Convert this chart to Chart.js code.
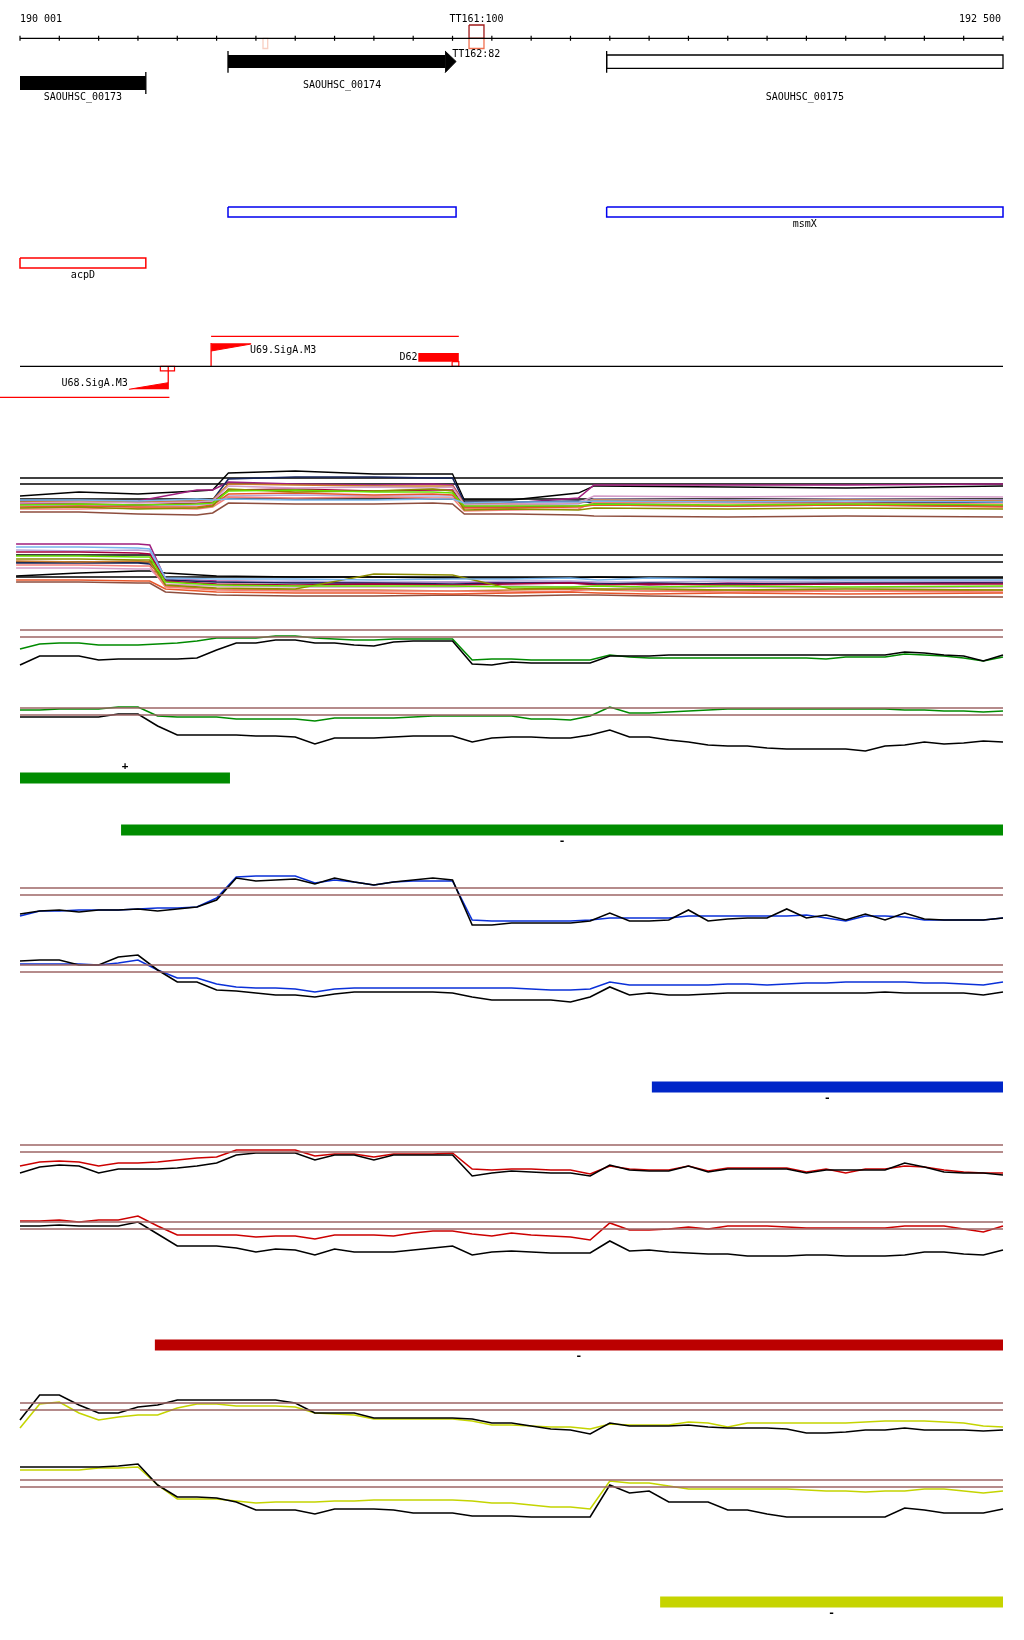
<!DOCTYPE html>
<html>
<head>
<meta charset="utf-8">
<title>SAOUHSC_00173 - SAOUHSC_00175</title>
<script src="https://cdn.jsdelivr.net/npm/chart.js@4.4.1/dist/chart.umd.min.js"></script>
<style>
  html, body { margin: 0; padding: 0; background: #fff; }
  body { position: relative; width: 1024px; height: 1640px; overflow: hidden; }
  canvas { position: absolute; left: 0; }
</style>
</head>
<body>
<script>
// genome window
const X_MIN = 190000;
const X_MAX = 192500;

const rulerTicks = [190000, 190100, 190200, 190300, 190400, 190500, 190600, 190700, 190800, 190900,
  191000, 191100, 191200, 191300, 191400, 191500, 191600, 191700, 191800, 191900,
  192000, 192100, 192200, 192300, 192400, 192500];
const rulerLabels = ["190 001", "192 500"];

// terminator marks on the ruler
const markNames = ["TT161:100", "TT162:82"];
const markStarts = [191142, 190618];
const markEnds = [191180, 190630];

// genes
const geneNames = ["SAOUHSC_00173", "SAOUHSC_00174", "SAOUHSC_00175"];
const geneStarts = [190000, 190529, 191492];
const geneEnds = [190320, 191109, 192500];

// annotation boxes
const blueStarts = [190529, 191492];
const blueEnds = [191109, 192500];
const blueNames = ["", "msmX"];
const redStarts = [190000];
const redEnds = [190320];
const redNames = ["acpD"];

// promoters / terminators
const promoterNames = ["U69.SigA.M3", "U68.SigA.M3", "D62"];
const promoterStarts = [190486, 190277, 191013];
const promoterEnds = [190588, 190377, 191116];

// tiling-array positions (every 50 bp)
const positions = [190000, 190050, 190100, 190150, 190200, 190250, 190300, 190350, 190400, 190450,
  190500, 190550, 190600, 190650, 190700, 190750, 190800, 190850, 190900, 190950,
  191000, 191050, 191100, 191150, 191200, 191250, 191300, 191350, 191400, 191450,
  191500, 191550, 191600, 191650, 191700, 191750, 191800, 191850, 191900, 191950,
  192000, 192050, 192100, 192150, 192200, 192250, 192300, 192350, 192400, 192450, 192500];

const thresholds = [7.0, 6.3];

const green1Black = [3.5,4.4,4.4,4.4,4.0,4.1,4.1,4.1,4.1,4.2, 5.0,5.7,5.7,6.0,6.0,5.7,5.7,5.5,5.4,5.8,
  5.9,5.9,5.9,3.6,3.5,3.8,3.7,3.7,3.7,3.7, 4.4,4.4,4.4,4.5,4.5,4.5,4.5,4.5,4.5,4.5, 4.5,4.5,4.5,4.5,4.5,4.8,4.7,4.5,4.4,3.9,4.5];
const green1Signal = [5.1,5.6,5.7,5.7,5.5,5.5,5.5,5.6,5.7,5.9, 6.2,6.2,6.2,6.4,6.4,6.2,6.1,6.0,6.0,6.1,
  6.1,6.1,6.1,4.0,4.1,4.1,4.0,4.0,4.0,4.0, 4.5,4.3,4.2,4.2,4.2,4.2,4.2,4.2,4.2,4.2, 4.2,4.1,4.3,4.3,4.3,4.6,4.5,4.4,4.2,3.9,4.3];
const green2Black = [6.1,6.1,6.1,6.1,6.1,6.4,6.4,5.2,4.3,4.3, 4.3,4.3,4.2,4.2,4.1,3.4,4.0,4.0,4.0,4.1,
  4.2,4.2,4.2,3.6,4.0,4.1,4.1,4.0,4.0,4.3, 4.8,4.1,4.1,3.8,3.6,3.3,3.2,3.2,3.0,2.9, 2.9,2.9,2.9,2.7,3.2,3.3,3.6,3.4,3.5,3.7,3.6];
const green2Signal = [6.8,6.8,6.9,6.9,6.9,7.1,7.1,6.2,6.1,6.1, 6.1,5.9,5.9,5.9,5.9,5.7,6.0,6.0,6.0,6.0,
  6.1,6.2,6.2,6.2,6.2,6.2,5.9,5.9,5.8,6.2, 7.1,6.5,6.5,6.6,6.7,6.8,6.9,6.9,6.9,6.9, 6.9,6.9,6.9,6.9,6.9,6.8,6.8,6.7,6.7,6.6,6.7];

const blue1Black = [4.4,4.7,4.8,4.6,4.8,4.8,4.9,4.7,4.9,5.1, 5.8,8.0,7.7,7.8,7.9,7.4,8.0,7.6,7.3,7.6,
  7.8,8.0,7.8,3.3,3.3,3.5,3.5,3.5,3.5,3.7, 4.5,3.7,3.7,3.8,4.8,3.7,3.9,4.0,4.0,4.9, 4.0,4.3,3.8,4.4,3.8,4.5,3.9,3.8,3.8,3.8,4.0];
const blue1Signal = [4.2,4.7,4.7,4.8,4.8,4.8,4.9,5.0,5.0,5.1, 6.0,8.1,8.2,8.2,8.2,7.5,7.8,7.6,7.3,7.6,
  7.7,7.7,7.7,3.8,3.7,3.7,3.7,3.7,3.7,3.8, 4.0,4.0,4.0,4.0,4.2,4.2,4.2,4.2,4.2,4.2, 4.3,4.0,3.7,4.2,4.2,4.1,3.8,3.8,3.8,3.8,4.0];
const blue2Black = [7.4,7.5,7.5,7.0,7.0,7.8,8.0,6.5,5.3,5.3, 4.5,4.4,4.2,4.0,4.0,3.8,4.1,4.3,4.3,4.3,
  4.3,4.3,4.2,3.8,3.5,3.5,3.5,3.5,3.3,3.8, 4.8,4.0,4.2,4.0,4.0,4.1,4.2,4.2,4.2,4.2, 4.2,4.2,4.2,4.2,4.3,4.2,4.2,4.2,4.2,4.0,4.3];
const blue2Signal = [7.1,7.1,7.1,7.1,7.0,7.2,7.5,6.5,5.7,5.7, 5.1,4.8,4.7,4.7,4.6,4.3,4.6,4.7,4.7,4.7,
  4.7,4.7,4.7,4.7,4.7,4.7,4.6,4.5,4.5,4.6, 5.3,5.0,5.0,5.0,5.0,5.0,5.1,5.1,5.0,5.1, 5.2,5.2,5.3,5.3,5.3,5.3,5.2,5.2,5.1,5.0,5.3];

const red1Black = [4.2,4.8,5.0,4.9,4.2,4.6,4.6,4.6,4.7,4.9, 5.2,6.0,6.2,6.2,6.2,5.5,6.0,6.0,5.5,6.0,
  6.0,6.0,6.0,3.9,4.2,4.4,4.3,4.2,4.2,3.9, 5.0,4.5,4.4,4.4,4.9,4.3,4.6,4.6,4.6,4.6, 4.2,4.5,4.5,4.5,4.5,5.2,4.8,4.3,4.2,4.2,4.0];
const red1Signal = [4.9,5.3,5.4,5.3,4.9,5.2,5.2,5.3,5.5,5.7, 5.8,6.5,6.5,6.5,6.5,5.9,6.1,6.1,5.8,6.1,
  6.1,6.1,6.2,4.6,4.5,4.6,4.6,4.5,4.5,4.1, 4.9,4.6,4.5,4.5,4.9,4.4,4.7,4.7,4.7,4.7, 4.3,4.6,4.2,4.6,4.6,4.9,4.8,4.5,4.3,4.2,4.2];
const red2Black = [6.6,6.6,6.7,6.6,6.6,6.6,7.0,5.8,4.6,4.6, 4.6,4.4,4.0,4.3,4.2,3.7,4.3,4.0,4.0,4.0,
  4.2,4.4,4.6,3.7,4.0,4.1,4.0,3.9,3.9,3.9, 5.1,4.1,4.2,4.0,3.9,3.8,3.8,3.6,3.6,3.6, 3.7,3.7,3.6,3.6,3.6,3.7,4.0,4.0,3.8,3.7,4.2];
const red2Signal = [7.1,7.1,7.2,7.0,7.2,7.2,7.6,6.6,5.7,5.7, 5.7,5.7,5.5,5.6,5.6,5.3,5.7,5.7,5.7,5.6,
  5.9,6.1,6.1,5.8,5.6,5.9,5.7,5.6,5.5,5.2, 6.9,6.2,6.2,6.3,6.5,6.3,6.6,6.6,6.6,6.5, 6.4,6.4,6.4,6.4,6.4,6.6,6.6,6.6,6.3,6.0,6.6];

const yellow1Black = [5.3,7.8,7.8,6.8,6.0,6.0,6.6,6.8,7.3,7.3, 7.3,7.3,7.3,7.3,7.0,6.0,6.0,6.0,5.5,5.5,
  5.5,5.5,5.5,5.4,5.0,5.0,4.7,4.4,4.3,3.9, 5.0,4.7,4.7,4.7,4.8,4.6,4.5,4.5,4.5,4.4, 4.0,4.0,4.1,4.3,4.3,4.5,4.3,4.3,4.3,4.2,4.3];
const yellow1Signal = [4.5,6.9,7.1,6.0,5.3,5.6,5.8,5.8,6.5,6.9, 6.9,6.7,6.7,6.7,6.6,6.0,5.9,5.8,5.4,5.4,
  5.4,5.4,5.4,5.2,4.8,4.8,4.7,4.6,4.6,4.4, 4.9,4.8,4.8,4.8,5.1,5.0,4.6,5.0,5.0,5.0, 5.0,5.0,5.0,5.1,5.2,5.2,5.2,5.1,5.0,4.7,4.6];
const yellow2Black = [8.3,8.3,8.3,8.3,8.3,8.4,8.6,6.5,5.3,5.3, 5.2,4.8,4.0,4.0,4.0,3.6,4.1,4.1,4.1,4.0,
  3.7,3.7,3.7,3.4,3.4,3.4,3.3,3.3,3.3,3.3, 6.5,5.7,5.9,4.8,4.8,4.8,4.0,4.0,3.6,3.3, 3.3,3.3,3.3,3.3,3.3,4.2,4.0,3.7,3.7,3.7,4.1];
const yellow2Signal = [8.0,8.0,8.0,8.0,8.2,8.2,8.3,6.5,5.1,5.1, 5.1,4.9,4.7,4.8,4.8,4.8,4.9,4.9,5.0,5.0,
  5.0,5.0,5.0,4.9,4.7,4.7,4.5,4.3,4.3,4.1, 6.9,6.7,6.7,6.4,6.1,6.1,6.1,6.1,6.1,6.1, 6.0,5.9,5.9,5.8,5.9,5.9,6.1,6.1,5.9,5.7,5.9];

// multi-condition overview panels
const multiColours = ["#78b4ec", "#66e000", "#8c8c00", "#e8562a", "#f4807a", "#8e4e3e",
  "#d49cc8", "#a8003c", "#cc7a2c", "#16245a", "#b4a8dc", "#a01f7e", "#000000"];
const multi1Positions = [190000, 190150, 190300, 190450, 190490, 190530, 190700, 190900, 191050,
  191100, 191130, 191250, 191420, 191460, 191800, 192100, 192500];
const multi1Lines = [
  [4.8,4.8,4.7,4.9,4.8,4.9,4.8,4.8,4.9,4.9,4.5,4.6,4.6,4.7,4.6,4.7,4.6],
  [4.3,4.4,4.3,4.4,4.5,5.7,5.8,5.6,5.6,5.5,4.2,4.2,4.2,4.4,4.3,4.4,4.3],
  [4.0,4.1,3.9,4.0,4.2,5.9,5.6,5.7,5.9,5.7,3.8,3.9,3.8,4.0,3.9,4.0,3.9],
  [4.1,4.2,4.1,4.1,4.3,5.4,5.5,5.3,5.4,5.3,4.0,4.0,4.1,4.3,4.2,4.3,4.1],
  [3.9,3.9,4.0,3.9,4.1,5.1,5.0,5.1,5.0,5.0,3.7,3.8,3.9,4.6,4.5,4.5,4.4],
  [3.6,3.6,3.4,3.3,3.5,4.5,4.4,4.4,4.5,4.4,3.4,3.4,3.3,3.2,3.1,3.2,3.1],
  [4.5,4.6,4.5,4.6,4.7,6.2,6.0,6.1,6.0,6.1,4.3,4.4,4.5,5.2,5.1,5.2,5.1],
  [4.4,4.4,4.3,4.5,4.6,5.8,5.9,5.7,5.8,5.8,4.1,4.1,4.2,4.3,4.2,4.3,4.2],
  [4.6,4.7,4.6,4.7,4.8,6.4,6.3,6.2,6.2,6.2,4.4,4.4,4.5,4.8,4.7,4.8,4.7],
  [4.7,4.7,4.6,4.7,4.8,6.9,7.1,7.1,7.0,7.0,4.6,4.6,4.7,4.5,4.6,4.5,4.6],
  [4.2,4.3,4.2,4.3,4.4,5.2,5.3,5.2,5.2,5.2,4.3,4.3,4.4,4.9,4.8,4.9,4.8],
  [4.5,4.6,4.7,5.8,5.8,6.6,6.4,6.3,6.4,6.3,4.5,4.5,5.0,6.3,6.3,6.3,6.4],
  [5.2,5.6,5.4,5.7,5.8,7.5,7.7,7.4,7.4,7.4,4.8,4.8,5.5,6.2,6.1,6.0,6.2]
];
const multi1Thresholds = [7.0, 6.4, 4.9];
const multi2Positions = [189990, 190150, 190300, 190330, 190370, 190500, 190700, 190900,
  191100, 191250, 191400, 191470, 191600, 191800, 192100, 192500];
const multi2Lines = [
  [7.8,7.8,7.7,7.6,4.7,4.6,4.6,4.5,4.6,4.6,4.7,4.5,4.7,4.6,4.5,4.5],
  [6.9,6.9,6.8,6.8,4.3,4.0,3.9,3.9,3.9,3.8,3.8,3.9,3.8,3.9,3.8,3.9],
  [6.6,6.6,6.5,6.5,4.0,3.7,3.6,5.1,5.0,3.6,3.7,3.6,3.6,3.5,3.6,3.5],
  [4.5,4.5,4.4,4.4,3.6,3.3,3.2,3.2,3.1,3.2,3.3,3.2,3.1,3.2,3.1,3.2],
  [6.0,6.0,5.9,5.9,3.8,3.5,3.4,3.4,3.4,3.3,3.4,3.6,3.4,3.3,3.4,3.3],
  [4.3,4.3,4.2,4.2,3.3,3.0,2.9,2.9,3.0,2.9,3.0,3.0,2.9,2.8,2.8,2.8],
  [5.7,5.7,5.6,5.6,4.1,3.9,3.8,3.8,3.8,3.9,3.8,3.9,3.7,3.8,3.7,3.8],
  [7.3,7.3,7.2,7.1,4.4,4.1,4.0,4.1,4.0,4.1,4.2,4.0,4.1,4.0,4.1,4.1],
  [6.4,6.3,6.4,6.3,3.9,3.6,3.5,3.5,3.4,3.5,3.6,3.5,3.4,3.5,3.4,3.5],
  [6.2,6.2,6.2,6.1,4.5,4.3,4.2,4.2,4.1,4.2,4.2,4.1,4.2,4.1,4.2,4.2],
  [7.5,7.4,7.5,7.4,4.6,4.3,4.4,4.3,4.3,4.4,4.4,4.3,4.3,4.4,4.3,4.4],
  [8.1,8.1,8.1,8.0,4.6,4.4,4.3,4.2,4.3,4.2,4.3,4.2,4.0,4.2,4.1,4.3],
  [4.9,5.2,5.4,5.4,5.2,4.9,4.8,4.8,4.7,4.7,4.7,4.8,4.7,4.7,4.7,4.7]
];
const multi2Thresholds = [7.0, 6.3, 4.8];

// transcribed strands under each panel group
const strandStarts = [190000, 190257, 191607, 190343, 191628];
const strandEnds = [190534, 192500, 192500, 192500, 192500];
const strandSigns = ["+", "-", "-", "-", "-"];

// ---------- drawing helpers ----------
const FONT = '10px "DejaVu Sans Mono", monospace';

function addCanvas(top, height) {
  const c = document.createElement("canvas");
  c.width = 1024;
  c.height = height;
  c.style.top = top + "px";
  c.style.width = "1024px";
  c.style.height = height + "px";
  document.body.appendChild(c);
  return c;
}

function series(xs, ys, color, width) {
  return {
    data: xs.map((x, i) => ({ x: x, y: ys[i] })),
    borderColor: color,
    backgroundColor: color,
    borderWidth: width || 1,
    pointRadius: 0,
    fill: false,
    clip: false,
  };
}
function hline(x0, x1, y, color, width) {
  return series([x0, x1], [y, y], color, width);
}
function vline(x, y0, y1, color, width) {
  return series([x, x], [y0, y1], color, width);
}
function bar(x0, x1, y, color, thickness) {
  const d = hline(x0, x1, y, color, thickness);
  d.borderCapStyle = "butt";
  return d;
}
function box(x0, x1, y0, y1, color, width) {
  return series([x0, x1, x1, x0, x0], [y0, y0, y1, y1, y0], color, width);
}
// wedge between a sloped line and a flat edge
function wedge(x0, x1, y0, y1, flat, color) {
  const d = series([x0, x1], [y0, y1], color, 1);
  d.fill = { value: flat };
  return d;
}

function textPlugin(items) {
  return {
    id: "texts",
    afterDatasetsDraw(chart) {
      const ctx = chart.ctx;
      const xs = chart.scales.x;
      const ys = chart.scales.y;
      ctx.save();
      ctx.fillStyle = "#000";
      ctx.textBaseline = "middle";
      items.forEach((t) => {
        ctx.font = t.font || FONT;
        ctx.textAlign = t.align || "center";
        ctx.fillText(t.text, xs.getPixelForValue(t.x), ys.getPixelForValue(t.y));
      });
      ctx.restore();
    },
  };
}

function makeChart(top, height, yMin, yMax, datasets, texts, reverse) {
  const canvas = addCanvas(top, height);
  return new Chart(canvas, {
    type: "line",
    data: { datasets: datasets },
    options: {
      responsive: false,
      animation: false,
      devicePixelRatio: 1,
      events: [],
      layout: { autoPadding: false, padding: { left: 20, right: 21, top: 0, bottom: 0 } },
      scales: {
        x: { type: "linear", min: X_MIN, max: X_MAX, display: false },
        y: { type: "linear", min: yMin, max: yMax, reverse: !!reverse, display: false },
      },
      plugins: { legend: { display: false }, tooltip: { enabled: false } },
      elements: { line: { tension: 0 }, point: { radius: 0 } },
    },
    plugins: [textPlugin(texts || [])],
  });
}

// ---------- top: ruler, genes, annotations, promoters ----------
// vertical layout of the lanes (rows of the top canvas, 1 unit = 1 px)
const L = {
  rulerText: 19.5, ruler: 38.3, markTop: 25, markBottom: 48.5,
  geneRow1: 61.5, geneRow1Top: 55, geneRow1Bottom: 68.3, geneTickTop: 51, geneTickBottom: 72.7,
  geneRow1Text: 85, geneRow2: 83, geneRow2Text: 97, geneRow2TickTop: 72, geneRow2TickBottom: 94,
  blueTop: 207, blueBottom: 217, blueText: 224,
  redTop: 258, redBottom: 268, redText: 275.7,
  axis: 366.3, plusLine: 336.3, minusLine: 397.3,
};

const RED = "#ff0000";
const topSets = [];
topSets.push(hline(X_MIN, X_MAX, L.ruler, "#000", 1.2));
topSets.push({
  data: rulerTicks.map((x) => ({ x: x, y: L.ruler })),
  showLine: false, pointStyle: "line", pointRotation: 90, pointRadius: 2.5,
  pointBorderWidth: 1.2, pointBorderColor: "#000", borderColor: "#000", clip: false,
});
// terminator marks
topSets.push(box(markStarts[0], markEnds[0], L.markTop, L.ruler, "#a01818", 1.3));
topSets.push(box(markStarts[0], markEnds[0], L.ruler, L.markBottom, "#f07050", 1.3));
topSets.push(box(markStarts[1], markEnds[1], L.ruler, L.markBottom, "#f8cfc2", 1.3));

// SAOUHSC_00173: filled bar, lower row, tick at its end
topSets.push(bar(geneStarts[0], geneEnds[0], L.geneRow2, "#000", 14));
topSets.push(vline(geneEnds[0], L.geneRow2TickTop, L.geneRow2TickBottom, "#000", 1.3));
// SAOUHSC_00174: filled arrow
const headBase = geneEnds[1] - 28;
topSets.push(bar(geneStarts[1], headBase, L.geneRow1, "#000", 13));
topSets.push(series([headBase, geneEnds[1]], [L.geneTickTop, L.geneRow1], "#000", 1));
const head = series([headBase, geneEnds[1]], [L.geneTickBottom, L.geneRow1], "#000", 1);
head.fill = "-1";
topSets.push(head);
topSets.push(vline(geneStarts[1], L.geneTickTop, L.geneTickBottom, "#000", 1.3));
// SAOUHSC_00175: open box
topSets.push(box(geneStarts[2], geneEnds[2], L.geneRow1Top, L.geneRow1Bottom, "#000", 1.3));
topSets.push(vline(geneStarts[2], L.geneTickTop, L.geneTickBottom, "#000", 1.3));

// blue and red annotation boxes
blueStarts.forEach((s, i) => topSets.push(box(s, blueEnds[i], L.blueTop, L.blueBottom, "#0000ee", 1.5)));
redStarts.forEach((s, i) => topSets.push(box(s, redEnds[i], L.redTop, L.redBottom, RED, 1.5)));

// promoter lane
topSets.push(hline(X_MIN, X_MAX, L.axis, "#000", 1.3));
topSets.push(hline(promoterStarts[0], promoterEnds[2], L.plusLine, RED, 1.3));
topSets.push(vline(promoterStarts[0], 343, L.axis, RED, 1.3));
topSets.push(wedge(promoterStarts[0], promoterEnds[0], 351, 344, 343.3, RED));
topSets.push(bar(promoterStarts[2], promoterEnds[2], 357.3, RED, 8.7));
topSets.push(box(promoterEnds[2] - 17, promoterEnds[2], 361.7, L.axis, RED, 1.2));
topSets.push(box(promoterEnds[1] - 20, promoterEnds[1] + 16, L.axis, 370.8, RED, 1.2));
topSets.push(vline(promoterEnds[1], L.axis, 389.3, RED, 1.3));
topSets.push(wedge(promoterStarts[1], promoterEnds[1], 389.3, 382.7, 389.3, RED));
topSets.push(hline(189949, promoterEnds[1] + 3, L.minusLine, RED, 1.3));

const mid = (a, b) => (a + b) / 2;
const topTexts = [
  { x: X_MIN, y: L.rulerText, text: rulerLabels[0], align: "left" },
  { x: X_MAX - 5, y: L.rulerText, text: rulerLabels[1], align: "right" },
  { x: mid(markStarts[0], markEnds[0]), y: L.rulerText, text: markNames[0] },
  { x: markStarts[0] - 43, y: 54.5, text: markNames[1], align: "left" },
  { x: mid(geneStarts[0], geneEnds[0]), y: L.geneRow2Text, text: geneNames[0] },
  { x: mid(geneStarts[1], geneEnds[1]), y: L.geneRow1Text, text: geneNames[1] },
  { x: mid(geneStarts[2], geneEnds[2]), y: L.geneRow2Text, text: geneNames[2] },
  { x: mid(blueStarts[1], blueEnds[1]), y: L.blueText, text: blueNames[1] },
  { x: mid(redStarts[0], redEnds[0]), y: L.redText, text: redNames[0] },
  { x: promoterEnds[0] - 3, y: 350.3, text: promoterNames[0], align: "left" },
  { x: promoterStarts[1] - 3, y: 383, text: promoterNames[1], align: "right" },
  { x: promoterStarts[2] - 2, y: 357.7, text: promoterNames[2], align: "right" },
];
makeChart(0, 410, 0, 410, topSets, topTexts, true);

// ---------- multi-condition panels ----------
function multiPanel(top, xs, rows, refs) {
  const ds = [];
  rows.forEach((row, k) => ds.push(series(xs, row, multiColours[k], k === rows.length - 1 ? 1.3 : 1.6)));
  refs.forEach((r) => ds.push(hline(xs[0], X_MAX, r, "#000", 1.5)));
  makeChart(top, 100, 0, 10, ds, []);
}
multiPanel(448, multi1Positions, multi1Lines, multi1Thresholds);
multiPanel(525, multi2Positions, multi2Lines, multi2Thresholds);

// ---------- condition groups ----------
const REF_COLOUR = "#9c6464";
function signalPanel(top, black, signal, colour) {
  const ds = thresholds.map((r) => hline(X_MIN, X_MAX, r, REF_COLOUR, 1.3));
  ds.push(series(positions, black, "#000", 1.6));
  ds.push(series(positions, signal, colour, 1.6));
  makeChart(top, 100, 0, 10, ds, []);
}
function strandBar(top, i, colour) {
  const s = strandStarts[i], e = strandEnds[i];
  const sign = strandSigns[i];
  makeChart(top, 30, 0, 3, [bar(s, e, 1.5, colour, 11)],
    [{ x: mid(s, e), y: sign === "+" ? 2.7 : 0.35, text: sign, font: 'bold 11px "DejaVu Sans Mono", monospace' }]);
}

signalPanel(600, green1Black, green1Signal, "#008a00");
signalPanel(678, green2Black, green2Signal, "#008a00");
strandBar(763, 0, "#008c00");
strandBar(815, 1, "#008c00");

signalPanel(858, blue1Black, blue1Signal, "#0a30d8");
signalPanel(935, blue2Black, blue2Signal, "#0a30d8");
strandBar(1072, 2, "#0026c8");

signalPanel(1115, red1Black, red1Signal, "#cc0000");
signalPanel(1192, red2Black, red2Signal, "#cc0000");
strandBar(1330, 3, "#bb0000");

signalPanel(1373, yellow1Black, yellow1Signal, "#c4d400");
signalPanel(1450, yellow2Black, yellow2Signal, "#c4d400");
strandBar(1587, 4, "#c6d400");
</script>
</body>
</html>
